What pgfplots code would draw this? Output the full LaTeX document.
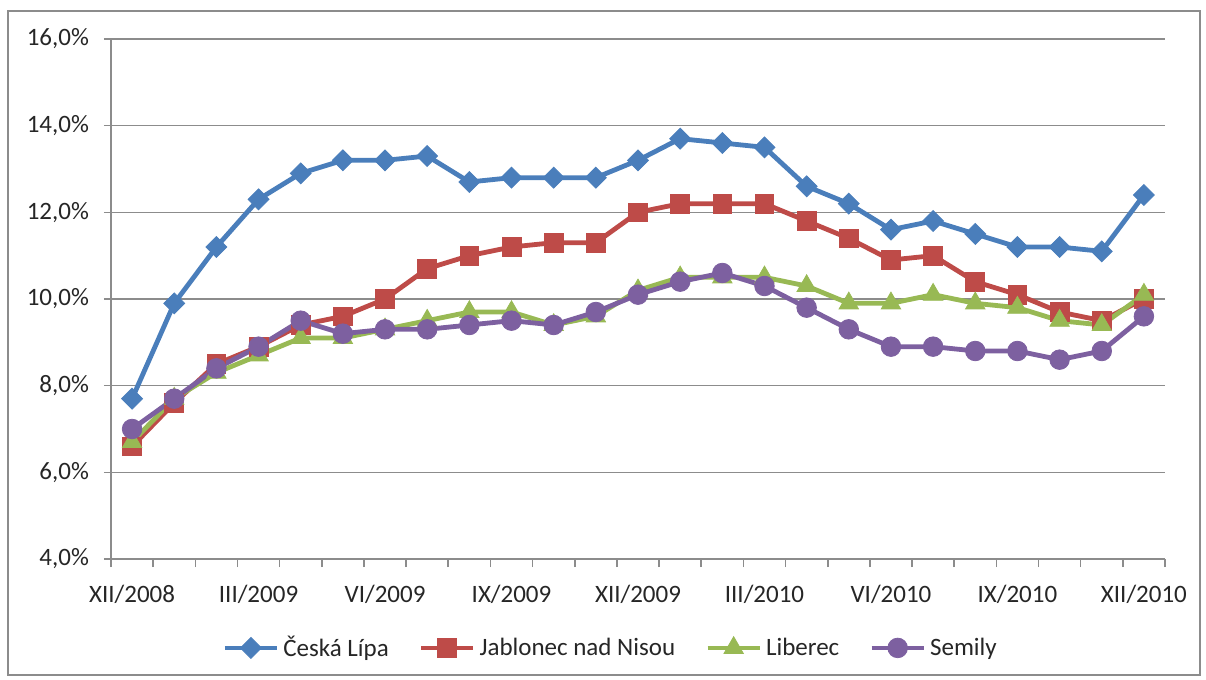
\documentclass[border=0pt]{standalone}
\usepackage{fontspec}
\setmainfont{Carlito}
\usepackage{pgfplots}
\pgfplotsset{compat=1.18}
\definecolor{cblue}{HTML}{4A7EBB}
\definecolor{cred}{HTML}{BE4B48}
\definecolor{cgreen}{HTML}{98B954}
\definecolor{cpurple}{HTML}{7D60A0}
\definecolor{gridc}{HTML}{8C8C8C}
\newcommand{\cf}{\fontsize{12.5}{15}\selectfont}
\pgfplotstableread{
x ceska jablonec liberec semily
0  7.7  6.6  6.7  7.0
1  9.9  7.6  7.7  7.7
2  11.2 8.5  8.3  8.4
3  12.3 8.9  8.7  8.9
4  12.9 9.4  9.1  9.5
5  13.2 9.6  9.1  9.2
6  13.2 10.0 9.3  9.3
7  13.3 10.7 9.5  9.3
8  12.7 11.0 9.7  9.4
9  12.8 11.2 9.7  9.5
10 12.8 11.3 9.4  9.4
11 12.8 11.3 9.6  9.7
12 13.2 12.0 10.2 10.1
13 13.7 12.2 10.5 10.4
14 13.6 12.2 10.5 10.6
15 13.5 12.2 10.5 10.3
16 12.6 11.8 10.3 9.8
17 12.2 11.4 9.9  9.3
18 11.6 10.9 9.9  8.9
19 11.8 11.0 10.1 8.9
20 11.5 10.4 9.9  8.8
21 11.2 10.1 9.8  8.8
22 11.2 9.7  9.5  8.6
23 11.1 9.5  9.4  8.8
24 12.4 10.0 10.1 9.6
}\datatable
\begin{document}
\begin{tikzpicture}
\useasboundingbox (-55.5pt,-60.5pt) rectangle (547.5pt,279.5pt);
\draw[gridc, line width=0.9pt] (-51.5pt,-58pt) rectangle (544.5pt,274pt);
\begin{axis}[
  at={(0,0)}, anchor=south west, scale only axis,
  width=527pt, height=260pt,
  xmin=-0.5, xmax=24.5, ymin=4, ymax=16,
  axis x line*=bottom, axis y line*=left,
  axis line style={-, draw=gridc, line width=0.8pt},
  xtick={0,3,...,24},
  xticklabels={XII/2008,III/2009,VI/2009,IX/2009,XII/2009,III/2010,VI/2010,IX/2010,XII/2010},
  minor xtick={-0.5,0.5,...,24.5},
  major x tick style={draw=none},
  minor x tick style={draw=gridc, line width=0.8pt},
  minor tick length=4pt,
  major tick length=3.5pt,
  tick align=outside,
  ytick={4,6,...,16},
  major y tick style={draw=gridc, line width=0.8pt},
  yticklabel={\pgfmathprintnumber[fixed,fixed zerofill,precision=1,use comma]{\tick}\%},
  /pgf/number format/assume math mode=true,
  ymajorgrids,
  grid style={draw=gridc, line width=0.8pt},
  tick label style={font=\cf, text=black!85},
  xticklabel style={yshift=-6pt},
  yticklabel style={xshift=-4pt},
  legend columns=4,
  legend style={draw=none, font=\cf, at={(0.475,-0.171)}, anchor=center,
    /tikz/every even column/.append style={column sep=13pt},
    text=black!85},
  legend cell align=left,
  legend image code/.code={\draw[mark repeat=2,mark phase=2] plot coordinates {(0pt,0pt) (13pt,0pt) (26pt,0pt)};},
]
\addplot[cblue, line width=2.4pt, mark=square*, mark size=3.7pt, mark options={rotate=45, line width=0.4pt}] table[x=x,y=ceska]{\datatable};
\addlegendentry{Česká Lípa}
\addplot[cred, line width=2.4pt, mark=square*, mark size=4.7pt, mark options={line width=0.4pt}] table[x=x,y=jablonec]{\datatable};
\addlegendentry{Jablonec nad Nisou}
\addplot[cgreen, line width=2.4pt, mark=triangle*, mark size=5.6pt, mark options={line width=0.4pt}] table[x=x,y=liberec]{\datatable};
\addlegendentry{Liberec}
\addplot[cpurple, line width=2.4pt, mark=*, mark size=4.9pt, mark options={line width=0.4pt}] table[x=x,y=semily]{\datatable};
\addlegendentry{Semily}
\end{axis}
\end{tikzpicture}
\end{document}
